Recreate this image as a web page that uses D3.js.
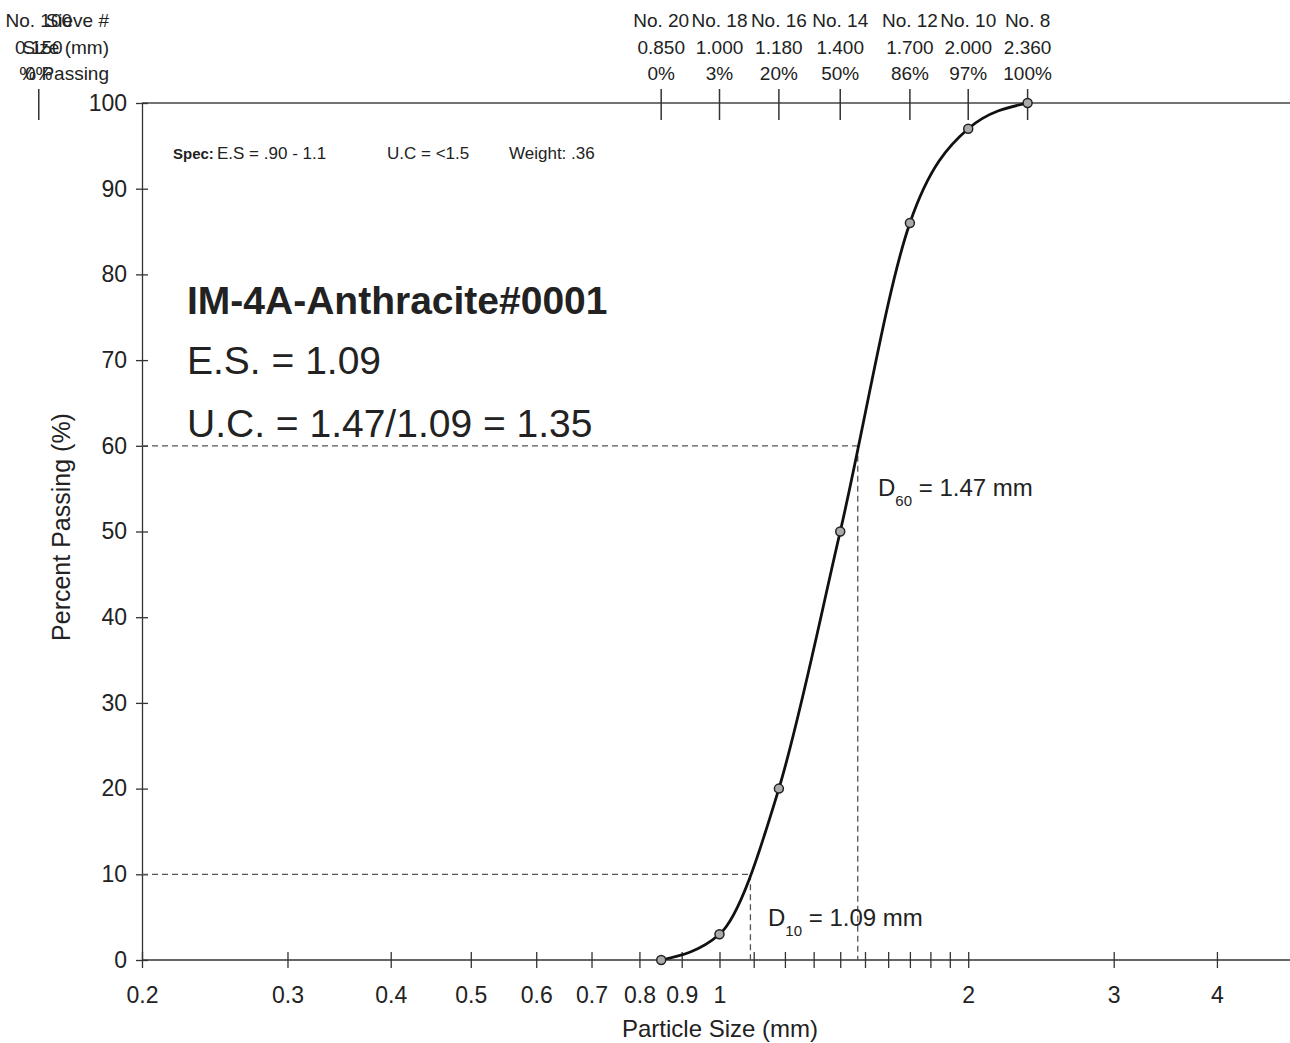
<!DOCTYPE html>
<html>
<head>
<meta charset="utf-8">
<script src="https://cdn.jsdelivr.net/npm/d3@7"></script>
<style>
  body { margin: 0; background: #fff; }
  svg { font-family: "Liberation Sans", Arial, sans-serif; }
  .axis text { font-size: 23px; fill: #222; }
  .axis path, .axis line { stroke: #333; stroke-width: 1.3; }
</style>
</head>
<body>
<svg id="chart" width="1290" height="1043"></svg>
<script>
// sieve data
var sieveNames = ["No. 20", "No. 18", "No. 16", "No. 14", "No. 12", "No. 10", "No. 8"];
var sieveSizes = [0.850, 1.000, 1.180, 1.400, 1.700, 2.000, 2.360];
var percentPassing = [0, 3, 20, 50, 86, 97, 100];
var xTicks = [0.2, 0.3, 0.4, 0.5, 0.6, 0.7, 0.8, 0.9, 1, 1.1, 1.2, 1.3, 1.4, 1.5, 1.6, 1.7, 1.8, 1.9, 2, 3, 4];
var xLabels = [0.2, 0.3, 0.4, 0.5, 0.6, 0.7, 0.8, 0.9, 1, 2, 3, 4];
var yTicks = [0, 10, 20, 30, 40, 50, 60, 70, 80, 90, 100];
var d10 = 1.09, d60 = 1.47;
// leftover column that sits off the plot, under the row headers
var extraSieve = { name: "No. 100", size: 0.150, pct: "0%" };
var rowHeaders = ["Sieve #", "Size (mm)", "% Passing"];

var svg = d3.select("#chart");

var x = d3.scaleLog().domain([0.2, 5]).range([142, 1297]);
var y = d3.scaleLinear().domain([0, 100]).range([960, 103]);

// top border line
svg.append("line")
  .attr("x1", 142).attr("x2", 1290)
  .attr("y1", y(100)).attr("y2", y(100))
  .attr("stroke", "#444").attr("stroke-width", 1.3);

// bottom axis
var xAxis = svg.append("g")
  .attr("class", "axis")
  .attr("transform", "translate(0," + y(0) + ")")
  .call(d3.axisBottom(x)
    .tickValues(xTicks)
    .tickSize(0)
    .tickPadding(27)
    .tickFormat(function(d) { return xLabels.indexOf(d) >= 0 ? d3.format("")(d) : ""; }));
xAxis.selectAll(".tick line").attr("y1", -8).attr("y2", 8);
xAxis.select(".domain").attr("d", "M142,0H1297");

// left axis
var yAxis = svg.append("g")
  .attr("class", "axis")
  .attr("transform", "translate(" + x(0.2) + ",0)")
  .call(d3.axisLeft(y).tickValues(yTicks).tickSize(0).tickPadding(15));
yAxis.selectAll(".tick line").attr("x1", -6).attr("x2", 6);

// axis titles
svg.append("text")
  .attr("x", 720).attr("y", 1037)
  .attr("text-anchor", "middle")
  .style("font-size", "24px").style("fill", "#222")
  .text("Particle Size (mm)");
svg.append("text")
  .attr("transform", "translate(70," + 527 + ") rotate(-90)")
  .attr("text-anchor", "middle")
  .style("font-size", "25px").style("fill", "#222")
  .text("Percent Passing (%)");

// sieve ticks on the top line
var allSizes = [extraSieve.size].concat(sieveSizes);
svg.append("g").selectAll("line")
  .data(allSizes)
  .enter()
  .append("line")
  .attr("x1", function(d) { return x(d); })
  .attr("x2", function(d) { return x(d); })
  .attr("y1", 89).attr("y2", 120)
  .attr("stroke", "#333").attr("stroke-width", 1.5);

// sieve label columns
var rowY = [27, 54, 80];
var cols = svg.append("g")
  .style("font-size", "19px").style("fill", "#222")
  .attr("text-anchor", "middle");
function column(cx, name, size, pct) {
  cols.append("text").attr("x", cx).attr("y", rowY[0]).text(name);
  cols.append("text").attr("x", cx).attr("y", rowY[1]).text(size);
  cols.append("text").attr("x", cx).attr("y", rowY[2]).text(pct);
}
sieveNames.forEach(function(n, i) {
  column(x(sieveSizes[i]), n, d3.format(".3f")(sieveSizes[i]), percentPassing[i] + "%");
});
column(x(extraSieve.size), extraSieve.name, d3.format(".3f")(extraSieve.size), extraSieve.pct);

// row headers (printed on top of the No. 100 column)
svg.append("g")
  .style("font-size", "19px").style("fill", "#222")
  .attr("text-anchor", "end")
  .selectAll("text")
  .data(rowHeaders)
  .enter()
  .append("text")
  .attr("x", 109)
  .attr("y", function(d, i) { return rowY[i]; })
  .text(function(d) { return d; });

// D10 / D60 guide lines
var guides = svg.append("g")
  .attr("stroke", "#555").attr("stroke-width", 1.3)
  .attr("stroke-dasharray", "6,4").attr("fill", "none");
[[d10, 10], [d60, 60]].forEach(function(g) {
  guides.append("line")
    .attr("x1", x(0.2)).attr("x2", x(g[0]))
    .attr("y1", y(g[1])).attr("y2", y(g[1]));
  guides.append("line")
    .attr("x1", x(g[0])).attr("x2", x(g[0]))
    .attr("y1", y(g[1])).attr("y2", y(0));
});

// gradation curve
var pts = sieveSizes.map(function(s, i) { return [x(s), y(percentPassing[i])]; });
svg.append("path")
  .datum(pts)
  .attr("d", d3.line().curve(d3.curveMonotoneX))
  .attr("fill", "none")
  .attr("stroke", "#111")
  .attr("stroke-width", 2.8);

svg.append("g").selectAll("circle")
  .data(pts)
  .enter()
  .append("circle")
  .attr("cx", function(d) { return d[0]; })
  .attr("cy", function(d) { return d[1]; })
  .attr("r", 4.5)
  .attr("fill", "#aaa")
  .attr("stroke", "#222")
  .attr("stroke-width", 1.5);

// spec line
var spec = svg.append("g").style("fill", "#222");
spec.append("text")
  .attr("x", 173).attr("y", 159)
  .style("font-size", "15px").style("font-weight", "bold")
  .text("Spec:");
spec.append("text").attr("x", 217).attr("y", 159).style("font-size", "17px").text("E.S = .90 - 1.1");
spec.append("text").attr("x", 387).attr("y", 159).style("font-size", "17px").text("U.C = <1.5");
spec.append("text").attr("x", 509).attr("y", 159).style("font-size", "17px").text("Weight: .36");

// sample annotations
svg.append("text")
  .attr("x", 187).attr("y", 314)
  .style("font-size", "39px").style("font-weight", "bold").style("fill", "#222")
  .text("IM-4A-Anthracite#0001");
svg.append("text")
  .attr("x", 187).attr("y", 374)
  .style("font-size", "39px").style("fill", "#222")
  .text("E.S. = " + d3.format(".2f")(d10));
svg.append("text")
  .attr("x", 187).attr("y", 437)
  .style("font-size", "39px").style("fill", "#222")
  .text("U.C. = " + d60 + "/" + d10 + " = " + d3.format(".2f")(d60 / d10));

function dLabel(xp, yp, sub, val) {
  var t = svg.append("text")
    .attr("x", xp).attr("y", yp)
    .style("font-size", "24px").style("fill", "#222");
  t.append("tspan").text("D");
  t.append("tspan").attr("dy", 10).style("font-size", "15px").text(sub);
  t.append("tspan").attr("dy", -10).text(" = " + val + " mm");
}
dLabel(878, 496, "60", d60);
dLabel(768, 926, "10", d10);
</script>
</body>
</html>
